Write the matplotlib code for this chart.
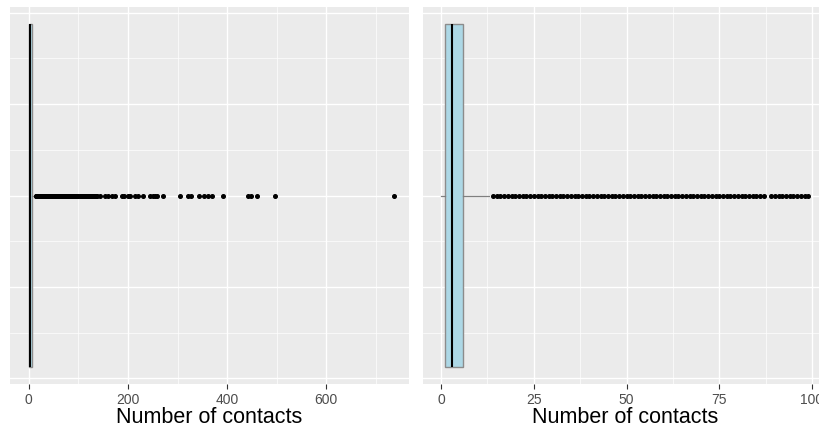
#!/usr/bin/env python3
"""
Boxplots of the number of contacts: full range and zoomed to 0-100
"""

import matplotlib
matplotlib.use('Agg')
import matplotlib.pyplot as plt
from matplotlib.ticker import MultipleLocator
import numpy as np

# Box statistics
q1 = 1
median = 3
q3 = 6
whisker_low = 0
whisker_high = 13

# Outliers: dense run of whole numbers, then the sparse tail
outliers_dense = list(range(14, 88)) + list(range(89, 100)) + list(range(104, 138))
outliers_tail = [143, 154, 160, 167, 174, 187, 192, 201, 205, 214, 221, 231,
                 244, 250, 255, 258, 271, 305, 321, 327, 343, 354, 362, 369,
                 391, 443, 448, 461, 497, 736]

full_ticks = [0, 200, 400, 600]
zoom_ticks = [0, 25, 50, 75, 100]
x_title = 'Number of contacts'

plt.rcParams['font.family'] = ['Liberation Sans', 'DejaVu Sans']

PANEL_BG = '#EBEBEB'
W, H = 820, 427


def style_panel(ax, xlim, major, minor):
    ax.set_facecolor(PANEL_BG)
    for s in ax.spines.values():
        s.set_visible(False)
    ax.set_xlim(*xlim)
    ax.set_ylim(-0.4125, 0.4125)
    ax.xaxis.set_major_locator(MultipleLocator(major))
    ax.xaxis.set_minor_locator(MultipleLocator(minor))
    ax.yaxis.set_major_locator(MultipleLocator(0.2))
    ax.yaxis.set_minor_locator(MultipleLocator(0.1))
    ax.grid(which='major', color='white', linewidth=1.0)
    ax.grid(which='minor', color='white', linewidth=0.5)
    ax.set_axisbelow(True)
    ax.tick_params(axis='y', which='both', left=False, labelleft=False)
    ax.tick_params(axis='x', which='minor', bottom=False)
    ax.tick_params(axis='x', which='major', length=3.5, width=0.8,
                   color='#333333', labelsize=10, labelcolor='#4D4D4D', pad=2)
    ax.set_xlabel(x_title, fontsize=15.5, color='black', labelpad=0)


def draw_box(ax):
    stats = [dict(med=median, q1=q1, q3=q3, whislo=whisker_low,
                  whishi=whisker_high,
                  fliers=np.array(outliers_dense + outliers_tail, dtype=float))]
    ax.bxp(stats, positions=[0], widths=0.75, orientation='horizontal',
           patch_artist=True, showcaps=False, manage_ticks=False,
           boxprops=dict(facecolor='#ADD8E6', edgecolor='#8C8C8C', linewidth=1.0),
           medianprops=dict(color='black', linewidth=1.5),
           whiskerprops=dict(color='#7F7F7F', linewidth=0.9),
           flierprops=dict(marker='o', markersize=2.6, markerfacecolor='black',
                           markeredgecolor='black', linestyle='none'))


fig = plt.figure(figsize=(W / 100, H / 100), dpi=100)
fig.patch.set_facecolor('white')

bottom = (H - 385) / H
height = 377 / H

# Left: full range
ax1 = fig.add_axes([10 / W, bottom, 399 / W, height])
draw_box(ax1)
style_panel(ax1, (-38, 767), 200, 100)
ax1.set_xticks(full_ticks)

# Right: zoomed to 0-100 (panel runs past the right edge of the picture)
ax2 = fig.add_axes([422.7 / W, bottom, 404 / W, height])
draw_box(ax2)
style_panel(ax2, (-4.95, 103.95), 25, 12.5)
ax2.set_xticks(zoom_ticks)

fig.savefig('out.png', dpi=100, facecolor='white')
